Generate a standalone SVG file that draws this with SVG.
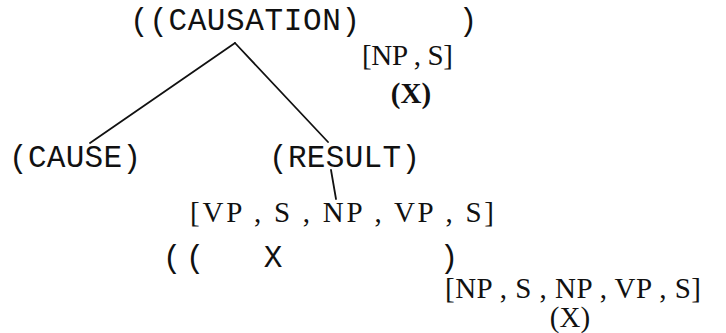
<svg xmlns="http://www.w3.org/2000/svg" width="726" height="333" viewBox="0 0 726 333">
  <style>
    .tw { font-family: "Liberation Mono", "DejaVu Sans Mono", monospace; font-size: 31px; fill: #111; }
    .sf { font-family: "Liberation Serif", "DejaVu Serif", serif; font-size: 29px; fill: #111; }
    .bd { font-weight: bold; }
    .edge { stroke: #111; stroke-width: 1.8; fill: none; stroke-linecap: round; }
  </style>
  <rect width="726" height="333" fill="#fff"/>

  <!-- tree edges -->
  <g id="connectors">
    <line class="edge" x1="235" y1="43" x2="90" y2="143"/>
    <line class="edge" x1="235" y1="43" x2="328" y2="142"/>
    <line class="edge" x1="331" y1="170" x2="336" y2="199"/>
  </g>

  <!-- root: causation with its feature annotation -->
  <g id="causation">
    <text class="tw" x="130" y="30" textLength="230" lengthAdjust="spacing">((CAUSATION)</text>
    <text class="tw" x="468" y="30" text-anchor="middle">)</text>
    <text class="sf" x="362" y="65" textLength="91" lengthAdjust="spacing">[NP , S]</text>
    <text class="sf bd" x="411" y="103" text-anchor="middle" font-size="30">(X)</text>
  </g>

  <g id="cause">
    <text class="tw" x="9" y="167" textLength="132" lengthAdjust="spacing">(CAUSE)</text>
  </g>

  <g id="result">
    <text class="tw" x="269" y="167" textLength="151" lengthAdjust="spacing">(RESULT)</text>
  </g>

  <!-- category list under RESULT -->
  <g id="result-x">
    <text class="sf" x="190" y="222" textLength="304" lengthAdjust="spacing">[VP , S , NP , VP , S]</text>
    <text class="tw" x="172" y="267" text-anchor="middle">(</text>
    <text class="tw" x="195" y="267" text-anchor="middle">(</text>
    <text class="tw" x="273" y="267" text-anchor="middle">X</text>
    <text class="tw" x="449" y="267" text-anchor="middle">)</text>
  </g>

  <g id="outer-x">
    <text class="sf" x="445" y="298" textLength="256" lengthAdjust="spacing" font-size="28">[NP , S , NP , VP , S]</text>
    <text class="sf" x="570" y="327" text-anchor="middle" font-size="25">(X)</text>
  </g>
</svg>
